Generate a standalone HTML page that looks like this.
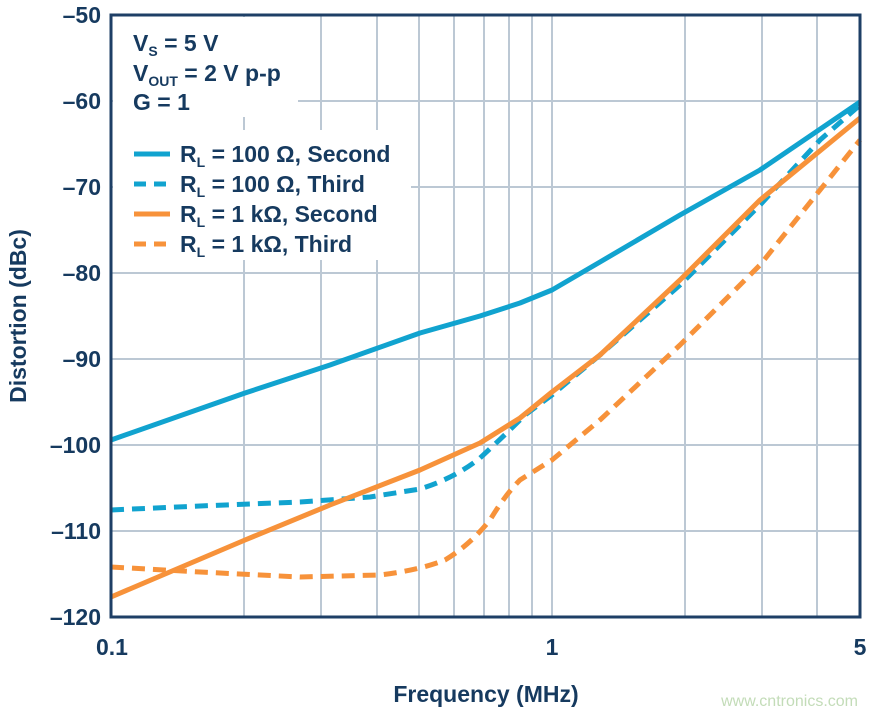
<!DOCTYPE html>
<html><head><meta charset="utf-8"><style>
html,body{margin:0;padding:0;background:#fff;}
svg{display:block;font-family:"Liberation Sans",sans-serif;}
</style></head><body>
<svg width="878" height="715" viewBox="0 0 878 715" xmlns="http://www.w3.org/2000/svg">
<g stroke="#bcc8d4" stroke-width="2">
<line x1="244" y1="15" x2="244" y2="617"/><line x1="321" y1="15" x2="321" y2="617"/>
<line x1="377" y1="15" x2="377" y2="617"/><line x1="419" y1="15" x2="419" y2="617"/>
<line x1="454" y1="15" x2="454" y2="617"/><line x1="484" y1="15" x2="484" y2="617"/>
<line x1="509" y1="15" x2="509" y2="617"/><line x1="532" y1="15" x2="532" y2="617"/>
<line x1="552" y1="15" x2="552" y2="617"/><line x1="685" y1="15" x2="685" y2="617"/>
<line x1="762" y1="15" x2="762" y2="617"/><line x1="817" y1="15" x2="817" y2="617"/>
<line x1="111" y1="101" x2="860" y2="101"/><line x1="111" y1="187" x2="860" y2="187"/>
<line x1="111" y1="273" x2="860" y2="273"/><line x1="111" y1="359" x2="860" y2="359"/>
<line x1="111" y1="445" x2="860" y2="445"/><line x1="111" y1="531" x2="860" y2="531"/>
</g>
<rect x="113" y="17" width="185" height="100" fill="#fff"/>
<rect x="113" y="130" width="298" height="130" fill="#fff"/>
<g fill="none" stroke-width="5" stroke-linejoin="round">
<path stroke="#11a3cf" d="M111,440 L245,393 L330,365 L420,333 L480,316 L520,303 L552,290 L600,262 L680,215 L760,170 L860,102"/>
<path stroke="#11a3cf" stroke-dasharray="13,8" d="M111,510 L200,506 L300,502 L370,497 L420,489 Q455,478 480,458 Q505,435 525,415 L552,395 L600,355 L680,285 L760,205 L820,140 L860,105"/>
<path stroke="#f7923a" d="M111,597 L245,540 L330,505 L420,470 L480,443 L520,418 L552,392 L600,355 L680,280 L760,200 L860,118"/>
<path stroke="#f7923a" stroke-dasharray="13,8" d="M111,567 L200,572 L300,577 L380,575 Q420,570 445,560 Q470,545 490,520 Q505,495 520,480 L552,460 L600,420 L680,345 L760,265 L860,140"/>
<line stroke="#11a3cf" x1="134" y1="154" x2="170" y2="154"/>
<line stroke="#11a3cf" stroke-dasharray="12,8" x1="134" y1="184" x2="170" y2="184"/>
<line stroke="#f7923a" x1="134" y1="214" x2="170" y2="214"/>
<line stroke="#f7923a" stroke-dasharray="12,8" x1="134" y1="244" x2="170" y2="244"/>
</g>
<rect x="111" y="15" width="749" height="602" fill="none" stroke="#1e3f66" stroke-width="3"/>
<g fill="#163a5f" font-weight="bold" font-size="23">
<text x="133" y="51">V<tspan font-size="14" dy="5">S</tspan><tspan dy="-5"> = 5 V</tspan></text>
<text x="133" y="81">V<tspan font-size="14" dy="5">OUT</tspan><tspan dy="-5"> = 2 V p-p</tspan></text>
<text x="133" y="110">G = 1</text>
<text x="180" y="162">R<tspan font-size="14" dy="5">L</tspan><tspan dy="-5"> = 100 Ω, Second</tspan></text>
<text x="180" y="192">R<tspan font-size="14" dy="5">L</tspan><tspan dy="-5"> = 100 Ω, Third</tspan></text>
<text x="180" y="222">R<tspan font-size="14" dy="5">L</tspan><tspan dy="-5"> = 1 kΩ, Second</tspan></text>
<text x="180" y="252">R<tspan font-size="14" dy="5">L</tspan><tspan dy="-5"> = 1 kΩ, Third</tspan></text>
<g text-anchor="end" font-size="23">
<text x="101" y="23">–50</text><text x="101" y="109">–60</text><text x="101" y="195">–70</text>
<text x="101" y="281">–80</text><text x="101" y="367">–90</text><text x="101" y="453">–100</text>
<text x="101" y="539">–110</text><text x="101" y="625">–120</text>
</g>
<g text-anchor="middle" font-size="23">
<text x="112" y="655">0.1</text><text x="552" y="655">1</text><text x="860" y="655">5</text>
<text x="486" y="702">Frequency (MHz)</text>
<text transform="translate(26,316) rotate(-90)">Distortion (dBc)</text>
</g>
</g>
<text x="858" y="706" text-anchor="end" fill="#c3dcb8" font-size="16">www.cntronics.com</text>
</svg>
</body></html>
